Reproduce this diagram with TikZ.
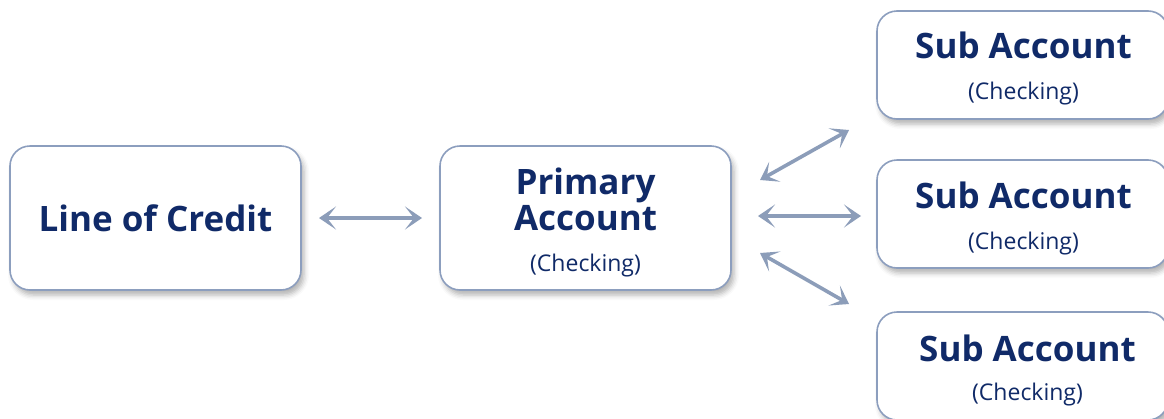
\documentclass[tikz,border=0pt]{standalone}
\usepackage{fontspec}
\setmainfont{Open Sans}
\usetikzlibrary{arrows.meta,shadows.blur}
\definecolor{navy}{RGB}{16,42,104}
\definecolor{edge}{RGB}{140,158,190}
\definecolor{arr}{RGB}{140,157,185}
\tikzset{
  acct/.style={draw=edge, line width=1.6pt, fill=white, rounded corners=20pt,
    minimum width=291pt, minimum height=144pt, inner sep=0pt,
    blur shadow={shadow xshift=3pt, shadow yshift=-5pt, shadow blur radius=5pt, shadow opacity=30}},
  subacct/.style={acct, minimum height=108pt},
  big/.style={text=navy, font=\fontsize{35}{40}\selectfont\bfseries, inner sep=0pt, anchor=base},
  small/.style={text=navy, font=\fontsize{23}{26}\selectfont, inner sep=0pt, anchor=base},
  link/.style={draw=arr, line width=3.6pt, {Stealth[length=17pt,width=23pt,inset=9pt]}-{Stealth[length=17pt,width=23pt,inset=9pt]}}
}
\begin{document}
\begin{tikzpicture}[x=1pt,y=-1pt]
\useasboundingbox (0,0) rectangle (1164,418);
\node[acct] (loc) at (155.5,218) {};
\node[acct] (pri) at (585.5,218) {};
\node[subacct] (s1) at (1022.5,65) {};
\node[subacct] (s2) at (1022.5,214) {};
\node[subacct] (s3) at (1022.5,366) {};
\node[big] (loct) at (155.5,231) {Line of Credit};
\node[big] (prit1) at (585.5,194) {Primary};
\node[big] (prit2) at (585.5,230) {Account};
\node[small] (prit3) at (585.5,271) {(Checking)};
\node[big] (s1t) at (1023.5,58) {Sub Account};
\node[small] (s1c) at (1023.5,99) {(Checking)};
\node[big] (s2t) at (1023.5,208) {Sub Account};
\node[small] (s2c) at (1023.5,249) {(Checking)};
\node[big] (s3t) at (1027.5,361) {Sub Account};
\node[small] (s3c) at (1027.5,400) {(Checking)};
\coordinate (a1) at (319,218);
\coordinate (b1) at (422,218);
\coordinate (a2) at (758,216);
\coordinate (b2) at (861,216);
\coordinate (a3) at (760,180);
\coordinate (b3) at (849,130);
\coordinate (a4) at (760,253);
\coordinate (b4) at (849,304);
\draw[link] (a1) -- (b1);
\draw[link] (a2) -- (b2);
\draw[link] (a3) -- (b3);
\draw[link] (a4) -- (b4);
\end{tikzpicture}
\end{document}
